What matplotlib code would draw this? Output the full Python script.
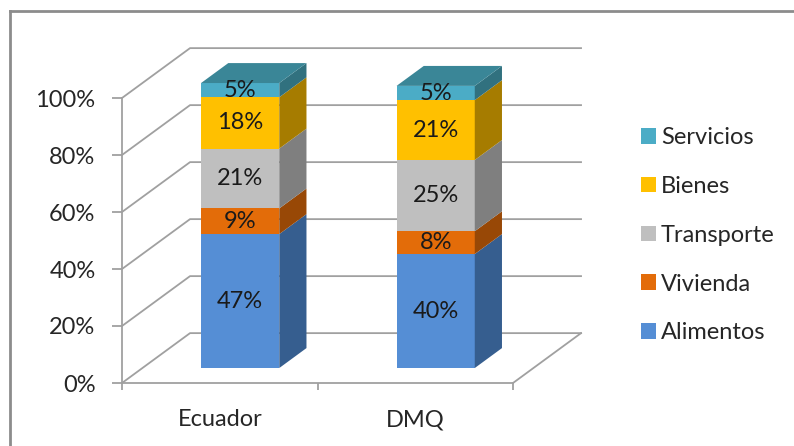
import matplotlib.pyplot as plt
from matplotlib.patches import Polygon, Patch

# datos del grafico
paises = ["Ecuador", "DMQ"]
rubros = ["Alimentos", "Vivienda", "Transporte", "Bienes", "Servicios"]
alimentos = [0.47, 0.40]
vivienda = [0.09, 0.08]
transporte = [0.21, 0.25]
bienes = [0.18, 0.21]
servicios = [0.05, 0.05]
series = [alimentos, vivienda, transporte, bienes, servicios]

colores = ["#558ED5", "#E36C09", "#BFBFBF", "#FFC000", "#4BACC6"]
lados = ["#365E8F", "#984806", "#7F7F7F", "#A67C00", "#31717F"]
tapa = "#3A8697"

plt.rcParams["font.family"] = ["Lato", "DejaVu Sans"]
fs = 17
gris = "#A0A0A0"

fig = plt.figure(figsize=(7.94, 4.46), dpi=100)
ax = fig.add_axes([122 / 794, 63 / 446, 391 / 794, 285 / 446])
ax.set_xlim(0, 2)
ax.set_ylim(0, 1)

# desplazamiento de profundidad (efecto 3D)
DX, DY = 0.348, 0.175


def proj(x, y, d):
    return (x + d * DX, y + d * DY)


# paredes y piso
yticks = [0, 0.2, 0.4, 0.6, 0.8, 1.0]
for yt in yticks:
    ax.plot([0, DX, 2 + DX], [yt, yt + DY, yt + DY], color=gris, lw=1.3,
            clip_on=False, zorder=1)
ax.plot([2, 2 + DX], [0, DY], color=gris, lw=1.3, clip_on=False, zorder=1)

# barras apiladas
w = 0.4
d0, d1 = 0.3, 0.7
for i, pais in enumerate(paises):
    c = i + 0.5
    x0, x1 = c - w / 2, c + w / 2
    base = 0
    for k, serie in enumerate(series):
        v = serie[i]
        y0, y1 = base, base + v
        frente = [proj(x0, y0, d0), proj(x1, y0, d0), proj(x1, y1, d0), proj(x0, y1, d0)]
        lado = [proj(x1, y0, d0), proj(x1, y0, d1), proj(x1, y1, d1), proj(x1, y1, d0)]
        ax.add_patch(Polygon(frente, closed=True, fc=colores[k], ec="none",
                             clip_on=False, zorder=3))
        ax.add_patch(Polygon(lado, closed=True, fc=lados[k], ec="none",
                             clip_on=False, zorder=3))
        cx, cy = proj(c, (y0 + y1) / 2, d0)
        ax.text(cx, cy, f"{round(v * 100)}%", ha="center", va="center",
                fontsize=fs, color="#1a1a1a", zorder=5, clip_on=False)
        base = y1
    arriba = [proj(x0, base, d0), proj(x1, base, d0), proj(x1, base, d1), proj(x0, base, d1)]
    ax.add_patch(Polygon(arriba, closed=True, fc=tapa, ec="none",
                         clip_on=False, zorder=3))

# ejes
for s in ["top", "right"]:
    ax.spines[s].set_visible(False)
for s in ["left", "bottom"]:
    ax.spines[s].set_color(gris)
    ax.spines[s].set_linewidth(1.3)

ax.set_yticks(yticks, labels=[f"{int(t * 100)}%" for t in yticks])
ax.tick_params(axis="y", length=7, width=1.3, color=gris, pad=12,
               labelsize=fs, labelcolor="#262626")
ax.set_xticks([0, 1, 2], labels=["", "", ""])
ax.tick_params(axis="x", which="major", length=5, width=1.3, color=gris)
ax.set_xticks([0.5, 1.5], labels=paises, minor=True)
ax.tick_params(axis="x", which="minor", length=0, pad=19, labelsize=fs,
               labelcolor="#262626")

# leyenda
handles = [Patch(fc=colores[k], ec="none", label=rubros[k]) for k in range(4, -1, -1)]
fig.legend(handles=handles, loc="upper left", bbox_to_anchor=(641 / 794, 1 - 127 / 446),
           frameon=False, fontsize=fs, handlelength=0.65, handleheight=0.65,
           handletextpad=0.2, labelspacing=1.18, borderpad=0, borderaxespad=0,
           labelcolor="#262626")

# marco
fig.add_artist(plt.Line2D([10 / 794, 10 / 794], [0, 1 - 11 / 446], color="#8C8C8C", lw=2))
fig.add_artist(plt.Line2D([10 / 794, 1], [1 - 11 / 446, 1 - 11 / 446], color="#8C8C8C", lw=2))

fig.savefig("out.png", dpi=100)
